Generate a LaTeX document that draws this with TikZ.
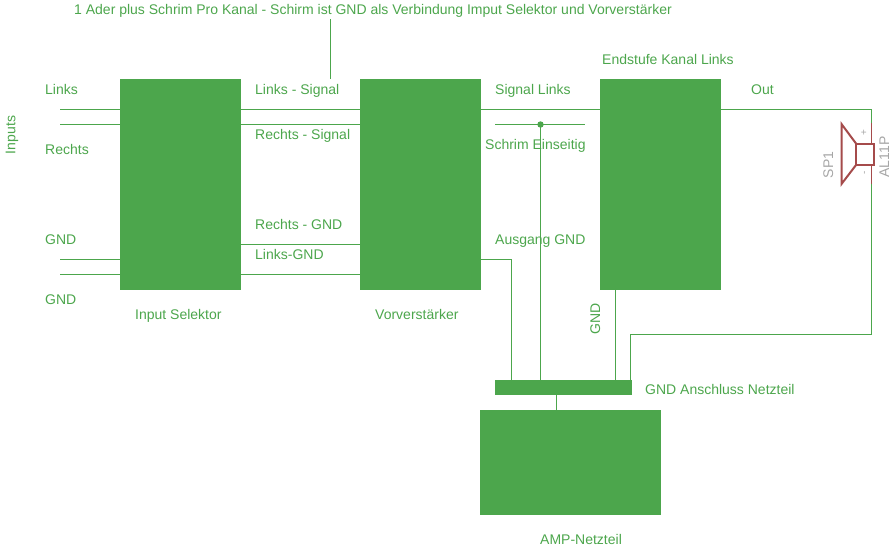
\documentclass[tikz,border=0pt]{standalone}
\usepackage{fontspec}
\setmainfont{Liberation Sans}
\tikzset{
  block/.style={fill=ampgreen,draw=none,inner sep=0pt,outer sep=0pt},
  wire/.style={ampgreen,line width=1.2},
  lbl/.style={ampgreen,anchor=base west,inner sep=0pt,font=\fontsize{14}{15}\selectfont},
  vlbl/.style={ampgreen,anchor=base,rotate=90,inner sep=0pt,font=\fontsize{14}{15}\selectfont},
  grey/.style={anchor=base,rotate=90,inner sep=0pt,text=ampgrey,font=\fontsize{14}{15}\selectfont},
  spk/.style={ampred,line width=2},
}
\definecolor{ampgreen}{HTML}{4CA64C}
\definecolor{ampred}{HTML}{A54B4B}
\definecolor{ampgrey}{HTML}{A6A6A6}
\begin{document}
\begin{tikzpicture}[x=1pt,y=-1pt]
  \useasboundingbox (0,0) rectangle (896,550);

  \node[block,minimum width=121,minimum height=211] (selektor) at (180.5,184.5) {};
  \node[block,minimum width=121,minimum height=211] (vorstufe) at (420.5,184.5) {};
  \node[block,minimum width=121,minimum height=211] (endstufe) at (660.5,184.5) {};
  \node[block,minimum width=137,minimum height=15] (gndbar) at (563.5,387.5) {};
  \node[block,minimum width=181,minimum height=105] (netzteil) at (570.5,462.5) {};

  \coordinate (linksin) at (60,109.5);
  \coordinate (rechtsin) at (60,124.5);
  \coordinate (gndina) at (60,259.5);
  \coordinate (gndinb) at (60,274.5);
  \coordinate (note) at (330.5,19);
  \coordinate (schirmL) at (495,124.5);
  \coordinate (schirmR) at (585,124.5);
  \coordinate (schirmdot) at (540.5,124.5);
  \coordinate (ausgang) at (511.5,259.5);
  \coordinate (spkplus) at (871.5,123);
  \coordinate (spkminus) at (871.5,184);
  \coordinate (rueck) at (630.5,334.5);

  \draw[wire] (linksin) -- (linksin -| selektor.west);
  \draw[wire] (rechtsin) -- (rechtsin -| selektor.west);
  \draw[wire] (gndina) -- (gndina -| selektor.west);
  \draw[wire] (gndinb) -- (gndinb -| selektor.west);
  \draw[wire] (linksin -| selektor.east) -- (linksin -| vorstufe.west);
  \draw[wire] (rechtsin -| selektor.east) -- (rechtsin -| vorstufe.west);
  \draw[wire] (selektor.east |- 0,244.5) -- (vorstufe.west |- 0,244.5);
  \draw[wire] (gndinb -| selektor.east) -- (gndinb -| vorstufe.west);
  \draw[wire] (linksin -| vorstufe.east) -- (linksin -| endstufe.west);
  \draw[wire] (note) -- (note |- selektor.north);
  \draw[wire] (schirmL) -- (schirmR);
  \draw[wire] (schirmdot) -- (schirmdot |- gndbar.north);
  \path[fill=ampgreen] (schirmdot) circle (3.2);
  \draw[wire] (ausgang -| vorstufe.east) -- (ausgang) -- (ausgang |- gndbar.north);
  \draw[wire] (615.5,0 |- endstufe.south) -- (615.5,0 |- gndbar.north);
  \draw[wire] (gndbar.north -| rueck) -- (rueck) -- (rueck -| spkminus) -- (spkminus);
  \draw[wire] (linksin -| endstufe.east) -- (linksin -| spkplus) -- (spkplus);
  \draw[wire] (gndbar.south -| 556.5,0) -- (netzteil.north -| 556.5,0);

  \draw[ampred,line width=1.2] (spkplus) -- (871.5,144);
  \draw[ampred,line width=1.2] (spkminus) -- (871.5,164);
  \draw[spk] (856,143.5) rectangle (874,165);
  \draw[spk] (856,143.5) -- (841.5,124) -- (841.5,184) -- (856,165);

  \node[lbl] (titel) at (74,14) {1 Ader plus Schrim Pro Kanal - Schirm ist GND als Verbindung Imput Selektor und Vorverstärker};
  \node[lbl] (tlinks) at (45,94) {Links};
  \node[lbl] (trechts) at (45,154) {Rechts};
  \node[lbl] (tgnda) at (45,244) {GND};
  \node[lbl] (tgndb) at (45,304) {GND};
  \node[vlbl] (tinputs) at (15.5,135) {Inputs};
  \node[lbl] (tlsig) at (255,94) {Links - Signal};
  \node[lbl] (trsig) at (255,139) {Rechts - Signal};
  \node[lbl] (trgnd) at (255,229) {Rechts - GND};
  \node[lbl] (tlgnd) at (255,259) {Links-GND};
  \node[lbl] (tsiglinks) at (495,94) {Signal Links};
  \node[lbl] (tschirm) at (485,149) {Schrim Einseitig};
  \node[lbl] (tausgang) at (495,244) {Ausgang GND};
  \node[lbl] (tendstufe) at (602,64) {Endstufe Kanal Links};
  \node[lbl] (tout) at (751,94) {Out};
  \node[vlbl] (tgndend) at (600,319) {GND};
  \node[lbl] (tanschluss) at (645,394) {GND Anschluss Netzteil};
  \node[lbl] (tselektor) at (135,319) {Input Selektor};
  \node[lbl] (tvorstufe) at (375,319) {Vorverstärker};
  \node[lbl] (tnetzteil) at (540,544) {AMP-Netzteil};

  \node[grey] (tsp) at (833,165) {SP1};
  \node[grey] (tal) at (889,157) {AL11P};
  \node[grey,font=\fontsize{10}{10}\selectfont] (tplus) at (867,133) {+};
  \node[grey,font=\fontsize{10}{10}\selectfont] (tminus) at (867,173) {-};
\end{tikzpicture}
\end{document}
